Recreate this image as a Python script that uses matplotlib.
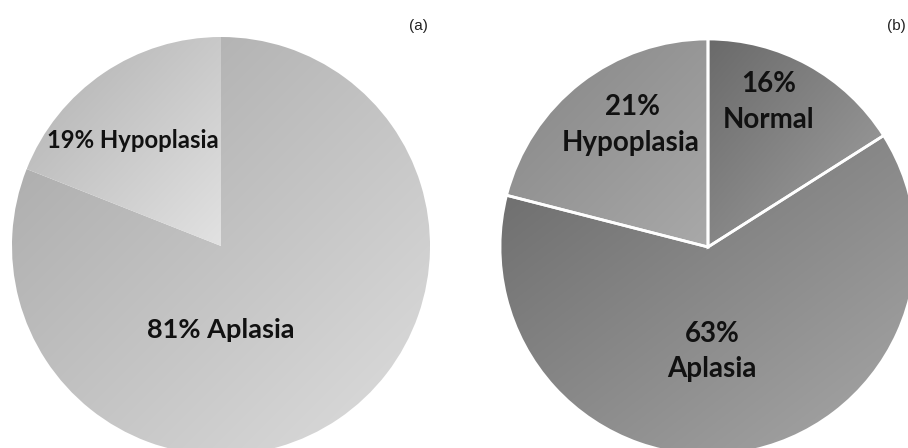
import numpy as np
import matplotlib
matplotlib.use("Agg")
import matplotlib.pyplot as plt

# Data
labels_a = ["Aplasia", "Hypoplasia"]
values_a = [81, 19]
labels_b = ["Normal", "Aplasia", "Hypoplasia"]
values_b = [16, 63, 21]

# gradient colors (start: top-left, end: bottom-right) per wedge
grad_a = [("#a6a6a6", "#dedede"), ("#b0b0b0", "#e2e2e2")]
grad_b = [("#6a6a6a", "#a2a2a2"), ("#6a6a6a", "#a8a8a8"), ("#858585", "#a9a9a9")]

W, H = 908, 448
fig = plt.figure(figsize=(W / 100, H / 100), dpi=100)
ax = fig.add_axes([0, 0, 1, 1])
ax.set_xlim(0, W)
ax.set_ylim(0, H)
ax.set_aspect("equal")
ax.axis("off")


def hex2rgb(h):
    h = h.lstrip("#")
    return np.array([int(h[i:i + 2], 16) / 255 for i in (0, 2, 4)])


def shade(wedges, grads):
    for w, (c0, c1) in zip(wedges, grads):
        w.set_facecolor("none")
        bb = w.get_path().get_extents(w.get_patch_transform())
        x0, y0, x1, y1 = bb.x0, bb.y0, bb.x1, bb.y1
        n = 200
        xx, yy = np.meshgrid(np.linspace(0, 1, n), np.linspace(1, 0, n))
        t = (xx + (1 - yy)) / 2
        a, b = hex2rgb(c0), hex2rgb(c1)
        img = a[None, None, :] + t[..., None] * (b - a)[None, None, :]
        im = ax.imshow(img, extent=(x0, x1, y0, y1), origin="upper",
                       interpolation="bilinear", zorder=1)
        im.set_clip_path(w)


# Pie (a)
wa, _ = ax.pie(values_a, center=(221, 448 - 246), radius=209, startangle=90,
               counterclock=False, frame=True,
               wedgeprops=dict(linewidth=0, edgecolor="none"))
shade(wa, grad_a)

# Pie (b)
wb, _ = ax.pie(values_b, center=(708, 448 - 247), radius=208, startangle=90,
               counterclock=False, frame=True,
               wedgeprops=dict(linewidth=2, edgecolor="white"))
shade(wb, grad_b)
for w in wb:
    w.set_zorder(3)

ax.set_xlim(0, W)
ax.set_ylim(0, H)
ax.axis("off")

font = ["Lato", "DejaVu Sans"]
tk = dict(ha="center", va="center", fontweight="bold", family=font, color="#111111", zorder=5)

ax.text(221, 448 - 330, f"{values_a[0]}% {labels_a[0]}", fontsize=19.5, **tk)
ax.text(133, 448 - 140, f"{values_a[1]}% {labels_a[1]}", fontsize=17.2, **tk)

fs = 20
# (b) labels: percent line, name line
ax.text(769, 448 - 84, f"{values_b[0]}%", fontsize=fs, **tk)
ax.text(769, 448 - 120, labels_b[0], fontsize=fs, **tk)
ax.text(712, 448 - 334, f"{values_b[1]}%", fontsize=fs, **tk)
ax.text(712, 448 - 369, labels_b[1], fontsize=fs, **tk)
ax.text(633, 448 - 107, f"{values_b[2]}%", fontsize=fs, **tk)
ax.text(631, 448 - 143, labels_b[2], fontsize=fs, **tk)

ax.text(418, 448 - 26, "(a)", fontsize=11, ha="center", va="center", family="Liberation Sans", color="#222222")
ax.text(896, 448 - 26, "(b)", fontsize=11, ha="center", va="center", family="Liberation Sans", color="#222222")

fig.savefig("out.png", dpi=100, facecolor="white")
